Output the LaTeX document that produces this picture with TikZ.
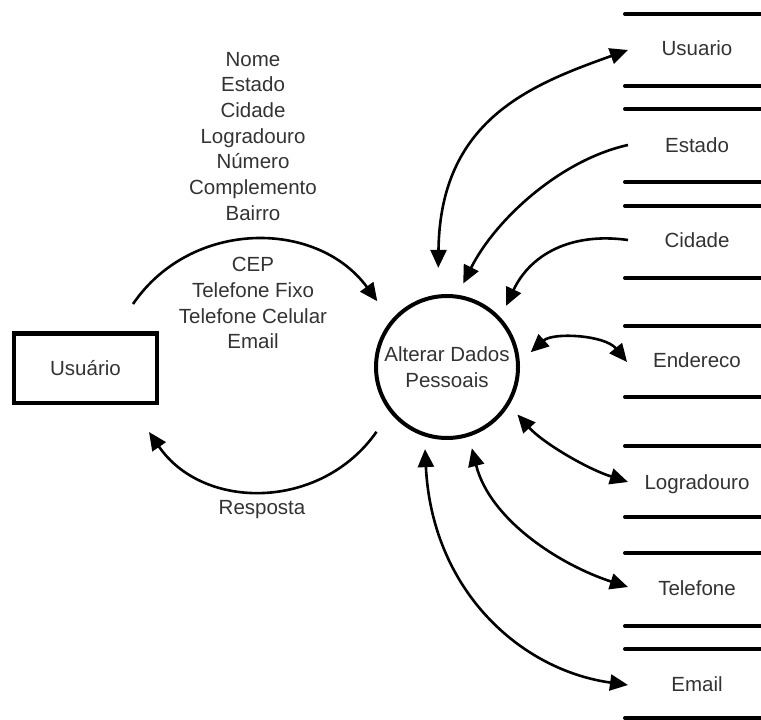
\documentclass[tikz,border=0pt]{standalone}
\usepackage{fontspec}
\setmainfont{Liberation Sans}
\usetikzlibrary{arrows.meta}
\begin{document}
\begin{tikzpicture}[x=1bp,y=-1bp,
  every node/.style={font=\fontsize{20.5bp}{25.7bp}\selectfont, text=black!80},
  >={Triangle[length=18bp,width=16bp]},
  flow/.style={line width=2.6bp, ->},
  bflow/.style={line width=2.6bp, <->},
  plainflow/.style={line width=2.6bp},
  storeline/.style={line width=4bp, line cap=round},
  process/.style={draw, circle, line width=4bp, minimum size=142bp,
    inner sep=0pt, outer sep=14bp, align=center},
  entity/.style={draw, line width=4.5bp, minimum width=142.5bp,
    minimum height=69.5bp, inner sep=0pt}]
\useasboundingbox (0,0) rectangle (761,720);

% external entity and process
\node[entity] (usr) at (85.5,368) {Usuário};
\node[process] (proc) at (447,367) {Alterar Dados\\Pessoais};

% data stores: label between two horizontal bars
\foreach \n/\t/\y/\a/\b in {
  dsUsuario/Usuario/48/14/86,
  dsEstado/Estado/145/109/182,
  dsCidade/Cidade/240/206/278,
  dsEndereco/Endereco/360/326/397,
  dsLogradouro/Logradouro/484/446/517,
  dsTelefone/Telefone/588/553/626,
  dsEmail/Email/684/649/718}{
  \node (\n) at (697,\y) {\t};
  \draw[storeline] (625,\a) -- (765,\a);
  \draw[storeline] (625,\b) -- (765,\b);
}

% data sent by the user
\node[align=center, inner sep=0pt] (dados) at (253,200.5)
  {Nome\\Estado\\Cidade\\Logradouro\\Número\\Complemento\\Bairro\\[25.7bp]CEP\\Telefone Fixo\\Telefone Celular\\Email};
\draw[flow, shorten >=11bp] ([xshift=-26bp,yshift=27bp]usr.north east)
  .. controls (191,219) and (317,219) .. (proc.138.4);

% answer back to the user
\node (resp) at (262,510) {Resposta};
\draw[flow, shorten <=11bp] (proc.221.6)
  .. controls (321,511) and (203,511) .. ([xshift=-10bp,yshift=-27bp]usr.south east);

% flows between the process and the data stores
\draw[bflow, shorten <=14.6bp] (proc.96.9)
  .. controls (440,120) and (530,85) .. ([xshift=-69bp,yshift=-2bp]dsUsuario.center);
\draw[flow] ([xshift=-69bp]dsEstado.center)
  .. controls (560,160) and (495,220) .. (proc.79.3);
\draw[flow] ([xshift=-69bp]dsCidade.center)
  .. controls (570,232) and (530,255) .. (proc.46.4);
\draw[bflow] (proc.10.5)
  .. controls (553,332) and (605,335) .. ([xshift=-70bp,yshift=-2bp]dsEndereco.center);
\draw[bflow] (proc.-34.1)
  .. controls (542,442) and (585,468) .. ([xshift=-69bp,yshift=2bp]dsLogradouro.center);
\draw[bflow] (proc.-73)
  .. controls (490,520) and (560,565) .. ([xshift=-69bp,yshift=1bp]dsTelefone.center);
\draw[bflow] (proc.255.6)
  .. controls (432,590) and (520,670) .. ([xshift=-69bp,yshift=-1bp]dsEmail.center);
\end{tikzpicture}
\end{document}
